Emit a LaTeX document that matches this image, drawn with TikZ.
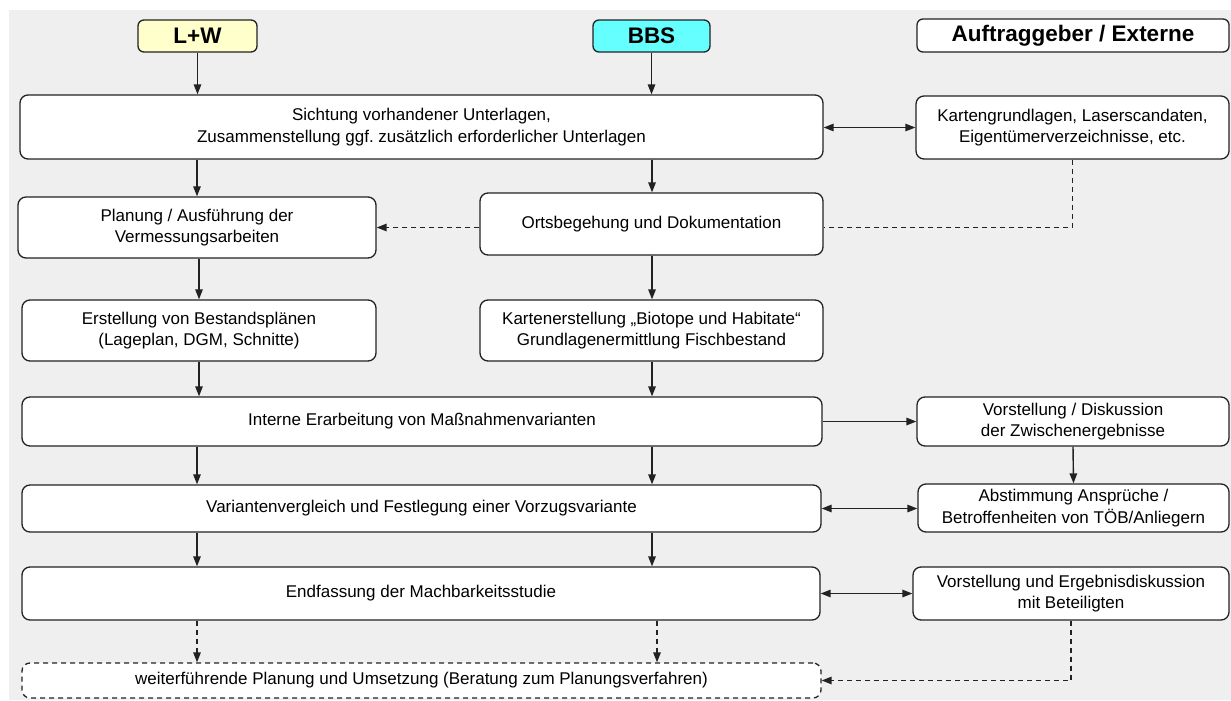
\documentclass[tikz,border=0pt]{standalone}
\usepackage{fontspec}
\setmainfont{Liberation Sans}
\usetikzlibrary{arrows.meta}
\frenchspacing
\definecolor{bgcol}{HTML}{EFEFEF}
\definecolor{linecol}{HTML}{222222}
\definecolor{lwcol}{HTML}{FFFFCC}
\definecolor{bbscol}{HTML}{66FFFF}
\tikzset{
  box/.style={draw=linecol, line width=1.3pt, fill=white, rounded corners=8pt,
    align=center, inner sep=0pt, font=\fontsize{17}{21.5}\selectfont},
  head/.style={draw=linecol, line width=1.3pt, rounded corners=6pt,
    align=center, inner sep=0pt, font=\fontsize{22.5}{26}\selectfont\bfseries},
  dbox/.style={box, dashed, dash pattern=on 5pt off 4pt},
  arr/.style={draw=linecol, line width=1.4pt, -{Triangle[length=10pt,width=7.5pt]}},
  darr/.style={draw=linecol, line width=1.4pt, {Triangle[length=10pt,width=7.5pt]}-{Triangle[length=10pt,width=7.5pt]}},
  dash arr/.style={arr, dash pattern=on 5pt off 4pt},
  dash line/.style={draw=linecol, line width=1.4pt, dash pattern=on 5pt off 4pt}
}
\begin{document}
\begin{tikzpicture}[x=1pt, y=-1pt]
\useasboundingbox (0,0) rectangle (1231,701);
\fill[bgcol] (9,10) rectangle (1231,700);
\coordinate (cL) at (197,0);
\coordinate (cR) at (652,0);
\coordinate (cR2) at (657,0);

% headers
\node[head, fill=lwcol, minimum width=119pt, minimum height=32pt] (lw) at (197.5,36) {L+W};
\node[head, fill=bbscol, minimum width=117pt, minimum height=32pt] (bbs) at (651.5,36) {BBS};
\node[head, fill=white, minimum width=312pt, minimum height=33pt] (ext) at (1073,35.5) {Auftraggeber / Externe};

% boxes
\node[box, minimum width=803pt, minimum height=64pt] (sicht) at (421.5,127) {\raisebox{-2pt}{\parbox{700pt}{\centering Sichtung vorhandener Unterlagen,\\Zusammenstellung ggf. zusätzlich erforderlicher Unterlagen}}};
\node[box, minimum width=313pt, minimum height=63pt] (karte) at (1072.5,127.5) {Kartengrundlagen, Laserscandaten,\\Eigentümerverzeichnisse, etc.};
\node[box, minimum width=358pt, minimum height=61pt] (plan) at (197,227.5) {Planung / Ausführung der\\Vermessungsarbeiten};
\node[box, minimum width=343pt, minimum height=62pt] (orts) at (651.5,224) {Ortsbegehung und Dokumentation};
\node[box, minimum width=354pt, minimum height=61pt] (erst) at (199,330.5) {Erstellung von Bestandsplänen\\(Lageplan, DGM, Schnitte)};
\node[box, minimum width=343pt, minimum height=61pt] (kerst) at (651.5,330.5) {Kartenerstellung „Biotope und Habitate“\\Grundlagenermittlung Fischbestand};
\node[box, minimum width=800pt, minimum height=49pt] (intern) at (422,421.5) {Interne Erarbeitung von Maßnahmenvarianten};
\node[box, minimum width=312pt, minimum height=49pt] (vor1) at (1073,421.5) {Vorstellung / Diskussion\\der Zwischenergebnisse};
\node[box, minimum width=799pt, minimum height=47pt] (varv) at (421.5,508.5) {Variantenvergleich und Festlegung einer Vorzugsvariante};
\node[box, minimum width=311pt, minimum height=48pt] (abst) at (1073.5,508) {Abstimmung Ansprüche /\\Betroffenheiten von TÖB/Anliegern};
\node[box, minimum width=798pt, minimum height=53pt] (endf) at (421,593.5) {Endfassung der Machbarkeitsstudie};
\node[box, minimum width=316pt, minimum height=53pt] (vor2) at (1071,593.5) {Vorstellung und Ergebnisdiskussion\\mit Beteiligten};
\node[dbox, minimum width=799pt, minimum height=35pt] (weiter) at (421.5,680.5) {weiterführende Planung und Umsetzung (Beratung zum Planungsverfahren)};

% vertical arrows left column
\draw[arr] (lw.south) -- (lw.south |- sicht.north);
\draw[arr] (sicht.south -| cL) -- (plan.north -| cL);
\draw[arr] (plan.south -| erst) -- (erst.north);
\draw[arr] (erst.south) -- (erst.south |- intern.north);
\draw[arr] (intern.south -| cL) -- (varv.north -| cL);
\draw[arr] (varv.south -| cL) -- (endf.north -| cL);
\draw[dash arr] (endf.south -| cL) -- (weiter.north -| cL);

% vertical arrows middle column
\draw[arr] (bbs.south) -- (bbs.south |- sicht.north);
\draw[arr] (sicht.south -| cR) -- (orts.north -| cR);
\draw[arr] (orts.south -| cR) -- (kerst.north -| cR);
\draw[arr] (kerst.south -| cR) -- (intern.north -| cR);
\draw[arr] (intern.south -| cR) -- (varv.north -| cR);
\draw[arr] (varv.south -| cR) -- (endf.north -| cR);
\draw[dash arr] (endf.south -| cR2) -- (weiter.north -| cR2);

% horizontal connections
\draw[darr] (sicht.east |- karte.west) -- (karte.west);
\draw[dash arr] (plan.east -| orts.west) -- (plan.east);
\draw[dash line] (karte.south) |- (plan.east -| orts.east);
\draw[arr] (intern.east) -- (vor1.west);
\draw[arr] (vor1.south) -- (abst.north);
\draw[darr] (varv.east) -- (varv.east -| abst.west);
\draw[darr] (endf.east) -- (vor2.west);
\draw[dash arr] (vor2.south) |- (weiter.east);
\end{tikzpicture}
\end{document}
